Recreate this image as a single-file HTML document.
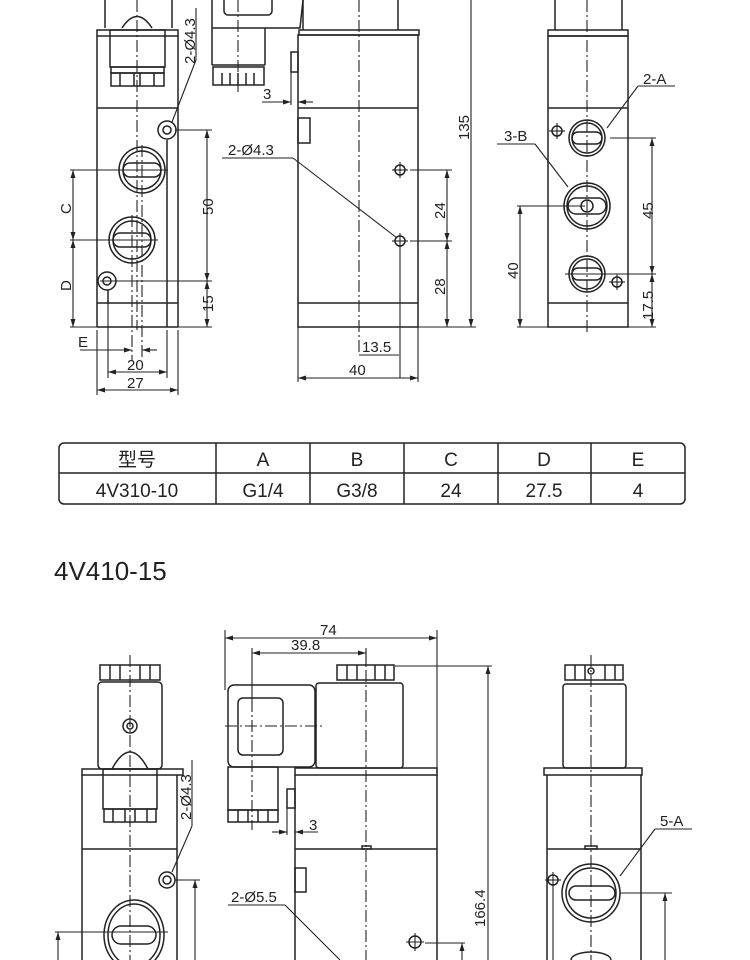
<!DOCTYPE html>
<html><head><meta charset="utf-8"><style>
html,body{margin:0;padding:0;background:#fff}
svg{display:block}
text{font-family:"Liberation Sans","Noto Sans CJK SC",sans-serif;fill:#222}
</style></head><body>
<svg width="750" height="960" viewBox="0 0 750 960" xmlns="http://www.w3.org/2000/svg">
<defs>
<marker id="a" markerWidth="8" markerHeight="6" refX="8" refY="3" orient="auto-start-reverse" markerUnits="userSpaceOnUse"><path d="M0,0.5 L8,3 L0,5.5z" fill="#222"/></marker>
</defs>
<g fill="none" stroke="#222" stroke-width="1.5">
<!-- ===== TOP LEFT VIEW ===== -->
<line x1="105" y1="0" x2="105" y2="28"/><line x1="172" y1="0" x2="172" y2="28"/>
<path d="M122,28 Q137,5 152,28"/>
<rect x="97" y="30" width="81" height="6"/>
<rect x="110" y="30" width="55" height="37"/>
<rect x="111" y="67" width="53" height="6"/>
<rect x="111" y="73" width="53" height="13"/>
<line x1="120" y1="73" x2="120" y2="86"/><line x1="134" y1="73" x2="134" y2="86"/><line x1="140" y1="73" x2="140" y2="86"/><line x1="154" y1="73" x2="154" y2="86"/>
<line x1="97" y1="36" x2="97" y2="327"/><line x1="178" y1="36" x2="178" y2="327"/>
<line x1="97" y1="108" x2="178" y2="108"/>
<line x1="97" y1="303" x2="178" y2="303"/>
<line x1="97" y1="327" x2="178" y2="327"/>
<line x1="167" y1="140" x2="167" y2="327"/>
<line x1="108" y1="290" x2="108" y2="303"/>
<circle cx="167" cy="130" r="9"/><circle cx="167" cy="130" r="4"/>
<circle cx="107" cy="281" r="9"/><circle cx="107" cy="281" r="4"/>
<circle cx="142" cy="170" r="23"/><circle cx="142" cy="170" r="19"/>
<rect x="123" y="163" width="38" height="14" rx="7"/>
<circle cx="132" cy="240" r="23"/><circle cx="132" cy="240" r="19"/>
<rect x="113" y="233" width="38" height="14" rx="7"/>
<g stroke-dasharray="12 3 2 3" stroke-width="1.1">
<line x1="137" y1="0" x2="137" y2="330"/>
<line x1="142" y1="145" x2="142" y2="360"/><line x1="132" y1="215" x2="132" y2="360"/>
</g>
<g stroke-width="1.1">
<line x1="175" y1="130" x2="212" y2="130"/>
<line x1="100" y1="281" x2="212" y2="281"/>
<line x1="70" y1="327" x2="212" y2="327"/>
<line x1="207" y1="130" x2="207" y2="281" marker-start="url(#a)" marker-end="url(#a)"/>
<line x1="207" y1="281" x2="207" y2="327" marker-start="url(#a)" marker-end="url(#a)"/>
<line x1="70" y1="170" x2="168" y2="170"/>
<line x1="70" y1="240" x2="158" y2="240"/>
<line x1="73" y1="170" x2="73" y2="240" marker-start="url(#a)" marker-end="url(#a)"/>
<line x1="73" y1="240" x2="73" y2="327" marker-start="url(#a)" marker-end="url(#a)"/>
<line x1="80" y1="350" x2="132" y2="350" marker-end="url(#a)"/>
<line x1="157" y1="350" x2="142" y2="350" marker-end="url(#a)"/>
<line x1="108" y1="300" x2="108" y2="378"/>
<line x1="167" y1="330" x2="167" y2="378"/>
<line x1="97" y1="330" x2="97" y2="395"/>
<line x1="178" y1="330" x2="178" y2="395"/>
<line x1="108" y1="372" x2="167" y2="372" marker-start="url(#a)" marker-end="url(#a)"/>
<line x1="97" y1="390" x2="178" y2="390" marker-start="url(#a)" marker-end="url(#a)"/>
<line x1="196" y1="60" x2="172" y2="122"/>
<line x1="196" y1="8" x2="196" y2="60"/>
</g>

<!-- ===== TOP MIDDLE VIEW ===== -->
<line x1="212" y1="0" x2="212" y2="65"/>
<path d="M212,28 L300,28 L303,0"/>
<rect x="224" y="-5" width="48" height="20" rx="4"/>
<line x1="265" y1="28" x2="265" y2="65"/>
<line x1="212" y1="65" x2="265" y2="65"/>
<rect x="213" y="67" width="51" height="18"/>
<line x1="222" y1="73" x2="222" y2="85"/><line x1="230" y1="73" x2="230" y2="85"/><line x1="238" y1="73" x2="238" y2="85"/><line x1="246" y1="73" x2="246" y2="85"/><line x1="254" y1="73" x2="254" y2="85"/>
<line x1="303" y1="0" x2="303" y2="30"/><line x1="398" y1="0" x2="398" y2="30"/>
<rect x="299" y="30" width="120" height="5"/>
<rect x="298" y="35" width="120" height="292"/>
<line x1="298" y1="108" x2="418" y2="108"/>
<line x1="298" y1="303" x2="418" y2="303"/>
<rect x="291" y="52" width="7" height="20"/>
<line x1="291" y1="72" x2="291" y2="105" stroke-width="1.1"/>
<rect x="298" y="118" width="12" height="25"/>
<line x1="262" y1="102" x2="291" y2="102" stroke-width="1.1" marker-end="url(#a)"/>
<line x1="313" y1="102" x2="298" y2="102" stroke-width="1.1" marker-end="url(#a)"/>
<g stroke-dasharray="12 3 2 3" stroke-width="1.1">
<line x1="359" y1="0" x2="359" y2="355"/>
<line x1="238" y1="0" x2="238" y2="92"/>
</g>
<circle cx="400" cy="170" r="5"/><line x1="392" y1="170" x2="408" y2="170" stroke-width="1.1"/><line x1="400" y1="162" x2="400" y2="178" stroke-width="1.1"/>
<circle cx="400" cy="241" r="5"/><line x1="392" y1="241" x2="408" y2="241" stroke-width="1.1"/><line x1="400" y1="233" x2="400" y2="249" stroke-width="1.1"/>
<g stroke-width="1.1">
<line x1="410" y1="170" x2="452" y2="170"/>
<line x1="410" y1="241" x2="452" y2="241"/>
<line x1="418" y1="327" x2="476" y2="327"/>
<line x1="447" y1="170" x2="447" y2="241" marker-start="url(#a)" marker-end="url(#a)"/>
<line x1="447" y1="241" x2="447" y2="327" marker-start="url(#a)" marker-end="url(#a)"/>
<line x1="471" y1="0" x2="471" y2="327" marker-end="url(#a)"/>
<line x1="400" y1="249" x2="400" y2="378"/>
<line x1="359" y1="355" x2="399" y2="355"/>
<line x1="298" y1="327" x2="298" y2="382"/>
<line x1="418" y1="327" x2="418" y2="382"/>
<line x1="298" y1="378" x2="418" y2="378" marker-start="url(#a)" marker-end="url(#a)"/>
<line x1="222" y1="158" x2="293" y2="158"/>
<line x1="293" y1="158" x2="397" y2="238"/>
</g>

<!-- ===== TOP RIGHT VIEW ===== -->
<line x1="555" y1="0" x2="555" y2="30"/><line x1="622" y1="0" x2="622" y2="30"/>
<rect x="548" y="30" width="80" height="6"/>
<rect x="548" y="36" width="80" height="291"/>
<line x1="548" y1="108" x2="628" y2="108"/>
<line x1="548" y1="303" x2="628" y2="303"/>
<circle cx="587" cy="138" r="18"/><circle cx="587" cy="138" r="15"/>
<rect x="572" y="132" width="30" height="12" rx="6"/>
<circle cx="587" cy="206" r="23"/><circle cx="587" cy="206" r="20"/>
<rect x="568" y="198" width="38" height="16" rx="8"/><circle cx="587" cy="206" r="6"/>
<circle cx="587" cy="274" r="18"/><circle cx="587" cy="274" r="15"/>
<rect x="572" y="268" width="30" height="12" rx="6"/>
<circle cx="557" cy="131" r="5"/><line x1="549" y1="131" x2="565" y2="131" stroke-width="1.1"/><line x1="557" y1="123" x2="557" y2="139" stroke-width="1.1"/>
<circle cx="617" cy="282" r="5"/><line x1="609" y1="282" x2="625" y2="282" stroke-width="1.1"/><line x1="617" y1="274" x2="617" y2="290" stroke-width="1.1"/>
<g stroke-dasharray="12 3 2 3" stroke-width="1.1"><line x1="587" y1="0" x2="587" y2="335"/></g>
<g stroke-width="1.1">
<line x1="610" y1="138" x2="656" y2="138"/>
<line x1="565" y1="274" x2="656" y2="274"/>
<line x1="628" y1="327" x2="656" y2="327"/>
<line x1="652" y1="138" x2="652" y2="274" marker-start="url(#a)" marker-end="url(#a)"/>
<line x1="652" y1="274" x2="652" y2="327" marker-start="url(#a)" marker-end="url(#a)"/>
<line x1="517" y1="206" x2="585" y2="206"/>
<line x1="517" y1="327" x2="548" y2="327"/>
<line x1="520" y1="206" x2="520" y2="327" marker-start="url(#a)" marker-end="url(#a)"/>
<line x1="638" y1="86" x2="675" y2="86"/><line x1="638" y1="86" x2="607" y2="128"/>
<line x1="497" y1="144" x2="535" y2="144"/><line x1="535" y1="144" x2="568" y2="187"/>
</g>

<!-- ===== TABLE ===== -->
<rect x="59" y="443" width="626" height="61" rx="5"/>
<line x1="59" y1="473" x2="685" y2="473"/>
<line x1="216" y1="443" x2="216" y2="504"/><line x1="310" y1="443" x2="310" y2="504"/><line x1="404" y1="443" x2="404" y2="504"/><line x1="498" y1="443" x2="498" y2="504"/><line x1="591" y1="443" x2="591" y2="504"/>

<!-- ===== BOTTOM DIMS ===== -->
<g stroke-width="1.1">
<line x1="225" y1="630" x2="225" y2="690"/>
<line x1="437" y1="630" x2="437" y2="775"/>
<line x1="225" y1="638" x2="437" y2="638" marker-start="url(#a)" marker-end="url(#a)"/>
<line x1="252" y1="648" x2="252" y2="700"/>
<line x1="366" y1="648" x2="366" y2="665"/>
<line x1="252" y1="653" x2="366" y2="653" marker-start="url(#a)" marker-end="url(#a)"/>
<line x1="395" y1="666" x2="492" y2="666"/>
<line x1="488" y1="666" x2="488" y2="960" marker-start="url(#a)"/>
</g>

<!-- bottom left view -->
<rect x="100" y="665" width="60" height="15"/>
<line x1="110" y1="665" x2="110" y2="680"/><line x1="120" y1="665" x2="120" y2="680"/><line x1="140" y1="665" x2="140" y2="680"/><line x1="150" y1="665" x2="150" y2="680"/>
<rect x="98" y="682" width="64" height="87" rx="4"/>
<path d="M112,769 Q130,735 148,769"/>
<circle cx="130" cy="726" r="7"/><circle cx="130" cy="726" r="3"/>
<rect x="82" y="769" width="101" height="6"/>
<line x1="82" y1="775" x2="82" y2="960"/><line x1="177" y1="775" x2="177" y2="960"/>
<line x1="82" y1="849" x2="177" y2="849"/>
<rect x="103" y="769" width="54" height="40"/>
<rect x="104" y="809" width="52" height="13"/>
<line x1="113" y1="809" x2="113" y2="822"/><line x1="125" y1="809" x2="125" y2="822"/><line x1="135" y1="809" x2="135" y2="822"/><line x1="147" y1="809" x2="147" y2="822"/>
<circle cx="167" cy="880" r="8"/><circle cx="167" cy="880" r="4"/>
<ellipse cx="134" cy="935" rx="30" ry="35"/><ellipse cx="134" cy="935" rx="26" ry="31"/>
<rect x="112" y="926" width="44" height="18" rx="9"/>
<g stroke-dasharray="12 3 2 3" stroke-width="1.1"><line x1="130" y1="655" x2="130" y2="960"/></g>
<g stroke-width="1.1">
<line x1="192" y1="760" x2="192" y2="826"/><line x1="192" y1="826" x2="172" y2="872"/>
<line x1="175" y1="880" x2="200" y2="880"/>
<line x1="195" y1="880" x2="195" y2="960" marker-start="url(#a)"/>
<line x1="55" y1="932" x2="168" y2="932"/>
<line x1="58" y1="932" x2="58" y2="960" marker-start="url(#a)"/>
</g>

<!-- bottom middle view -->
<rect x="228" y="685" width="87" height="82" rx="6"/>
<rect x="238" y="698" width="45" height="57" rx="5"/>
<rect x="228" y="767" width="50" height="43"/>
<rect x="228" y="810" width="50" height="12"/>
<line x1="238" y1="810" x2="238" y2="822"/><line x1="248" y1="810" x2="248" y2="822"/><line x1="258" y1="810" x2="258" y2="822"/><line x1="268" y1="810" x2="268" y2="822"/>
<rect x="316" y="683" width="87" height="85" rx="3"/>
<rect x="337" y="665" width="57" height="15"/>
<line x1="347" y1="665" x2="347" y2="680"/><line x1="357" y1="665" x2="357" y2="680"/><line x1="375" y1="665" x2="375" y2="680"/><line x1="385" y1="665" x2="385" y2="680"/>
<rect x="295" y="768" width="142" height="7"/>
<line x1="295" y1="775" x2="295" y2="960"/><line x1="437" y1="775" x2="437" y2="960"/>
<line x1="295" y1="849" x2="437" y2="849"/>
<rect x="362" y="846" width="9" height="3"/>
<rect x="287" y="789" width="8" height="19"/>
<line x1="287" y1="808" x2="287" y2="835" stroke-width="1.1"/>
<rect x="295" y="868" width="11" height="24"/>
<line x1="272" y1="832" x2="287" y2="832" stroke-width="1.1" marker-end="url(#a)"/>
<line x1="318" y1="832" x2="295" y2="832" stroke-width="1.1" marker-end="url(#a)"/>
<g stroke-dasharray="12 3 2 3" stroke-width="1.1">
<line x1="366" y1="650" x2="366" y2="960"/>
<line x1="252" y1="700" x2="252" y2="830"/>
<line x1="225" y1="726" x2="322" y2="726"/>
</g>
<circle cx="415" cy="942" r="6"/><line x1="406" y1="942" x2="424" y2="942" stroke-width="1.1"/><line x1="415" y1="933" x2="415" y2="951" stroke-width="1.1"/>
<g stroke-width="1.1">
<line x1="425" y1="943" x2="465" y2="943"/>
<line x1="462" y1="943" x2="462" y2="960" marker-start="url(#a)"/>
<line x1="228" y1="905" x2="285" y2="905"/><line x1="285" y1="905" x2="340" y2="960"/>
</g>

<!-- bottom right view -->
<rect x="565" y="665" width="58" height="15"/>
<line x1="575" y1="665" x2="575" y2="680"/><line x1="585" y1="665" x2="585" y2="680"/><line x1="605" y1="665" x2="605" y2="680"/><line x1="615" y1="665" x2="615" y2="680"/>
<circle cx="591" cy="671" r="3"/>
<rect x="563" y="684" width="63" height="84" rx="3"/>
<rect x="544" y="768" width="98" height="7"/>
<line x1="547" y1="775" x2="547" y2="960"/><line x1="641" y1="775" x2="641" y2="960"/>
<line x1="547" y1="849" x2="641" y2="849"/>
<rect x="585" y="846" width="12" height="3"/>
<circle cx="591" cy="893" r="29"/><circle cx="591" cy="893" r="25"/>
<rect x="569" y="886" width="46" height="14" rx="7"/>
<ellipse cx="591" cy="960" rx="20" ry="8"/>
<g stroke-dasharray="12 3 2 3" stroke-width="1.1"><line x1="591" y1="655" x2="591" y2="960"/></g>
<circle cx="553" cy="880" r="5"/><line x1="545" y1="880" x2="561" y2="880" stroke-width="1.1"/><line x1="553" y1="872" x2="553" y2="888" stroke-width="1.1"/>
<g stroke-width="1.1">
<line x1="553" y1="888" x2="553" y2="960"/>
<line x1="620" y1="893" x2="672" y2="893"/>
<line x1="665" y1="893" x2="665" y2="960" marker-start="url(#a)"/>
<line x1="655" y1="829" x2="692" y2="829"/><line x1="655" y1="829" x2="620" y2="876"/>
</g>
</g>

<!-- ===== TEXT ===== -->
<g font-size="15">
<text transform="translate(195,64) rotate(-90)">2-Ø4.3</text>
<text transform="translate(213,215) rotate(-90)">50</text>
<text transform="translate(213,312) rotate(-90)">15</text>
<text transform="translate(71,214) rotate(-90)">C</text>
<text transform="translate(71,291) rotate(-90)">D</text>
<text x="78" y="347">E</text>
<text x="127" y="370">20</text>
<text x="127" y="388">27</text>
<text x="263" y="99">3</text>
<text x="228" y="155">2-Ø4.3</text>
<text transform="translate(469,140) rotate(-90)">135</text>
<text transform="translate(445,219) rotate(-90)">24</text>
<text transform="translate(445,295) rotate(-90)">28</text>
<text x="362" y="352">13.5</text>
<text x="349" y="375">40</text>
<text x="643" y="84">2-A</text>
<text x="504" y="141">3-B</text>
<text transform="translate(653,219) rotate(-90)">45</text>
<text transform="translate(653,320) rotate(-90)">17.5</text>
<text transform="translate(518,279) rotate(-90)">40</text>
<text x="320" y="635">74</text>
<text x="291" y="650">39.8</text>
<text transform="translate(485,927) rotate(-90)">166.4</text>
<text transform="translate(191,820) rotate(-90)">2-Ø4.3</text>
<text x="309" y="830">3</text>
<text x="231" y="902">2-Ø5.5</text>
<text x="660" y="826">5-A</text>
</g>
<g font-size="19" text-anchor="middle">
<text x="137" y="466">型号</text><text x="263" y="466">A</text><text x="357" y="466">B</text><text x="451" y="466">C</text><text x="544" y="466">D</text><text x="638" y="466">E</text>
<text x="137" y="497">4V310-10</text><text x="263" y="497">G1/4</text><text x="357" y="497">G3/8</text><text x="451" y="497">24</text><text x="544" y="497">27.5</text><text x="638" y="497">4</text>
</g>
<text x="54" y="580" font-size="26">4V410-15</text>
</svg>
</body></html>
